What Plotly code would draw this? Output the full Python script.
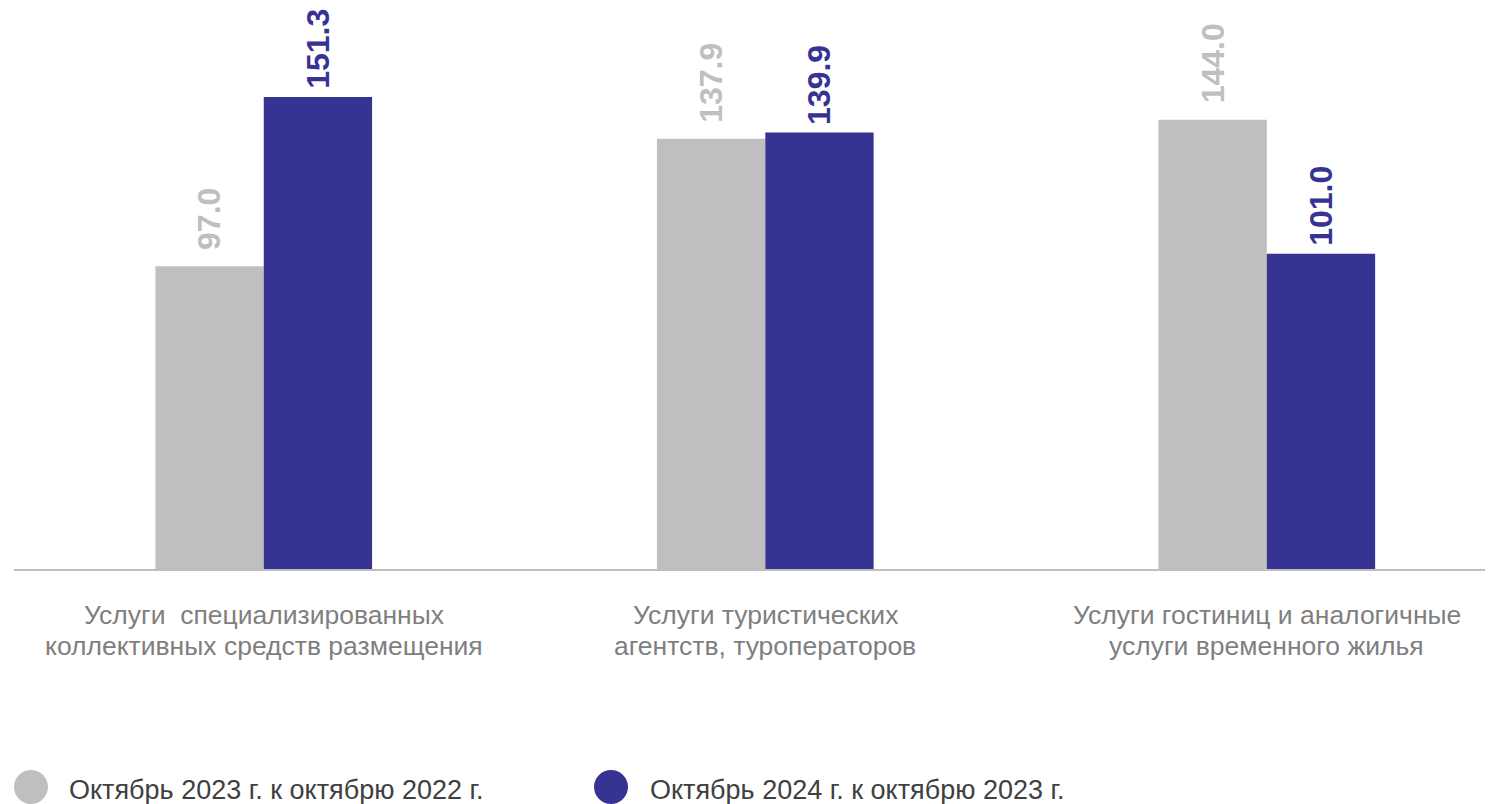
import plotly.graph_objects as go

category_lines = [
    ["Услуги  специализированных", "коллективных средств размещения"],
    ["Услуги туристических", "агентств, туроператоров"],
    ["Услуги гостиниц и аналогичные", "услуги временного жилья"],
]
series_names = ["Октябрь 2023 г. к октябрю 2022 г.", "Октябрь 2024 г. к октябрю 2023 г."]
values_2023 = [97.0, 137.9, 144.0]
values_2024 = [151.3, 139.9, 101.0]
colors = ["#BFBFBF", "#373393"]

# page offset (browser body margin)
OFF = 8
W, H = 1493 - OFF, 804 - OFF
ML, MR, MT, MB = 14 - OFF, 0, 0, H - (569 - OFF)
PW, PH = W - ML - MR, H - MT - MB

xpos = list(range(len(category_lines)))
FONT = "Liberation Sans, Arial, sans-serif"


def px_x(X):  # page pixel -> paper
    return (X - OFF - ML) / PW


def px_y(Y):
    return (H - MB - (Y - OFF)) / PH


fig = go.Figure()
for name, vals, col in zip(series_names, [values_2023, values_2024], colors):
    fig.add_trace(go.Bar(x=xpos, y=vals, name=name, marker=dict(color=col, line=dict(width=0)),
                         showlegend=False, hoverinfo="skip"))

annotations = []
# data labels
bar_px = 108.3
label_gap = [14, 6]
for k, (vals, col) in enumerate(zip([values_2023, values_2024], colors)):
    shift = (-0.5 if k == 0 else 0.5) * bar_px
    for i, v in enumerate(vals):
        annotations.append(dict(x=xpos[i], y=v, xref="x", yref="y", text=f"<b>{v:.1f}</b>",
                                textangle=-90, showarrow=False, xshift=shift, yshift=label_gap[k],
                                xanchor="center", yanchor="bottom",
                                font=dict(family=FONT, size=32, color=col)))

# category labels
for i, lines in enumerate(category_lines):
    for j, line in enumerate(lines):
        annotations.append(dict(x=xpos[i], y=px_y(615 + 31 * j), xref="x", yref="paper",
                                text=line, showarrow=False, xanchor="center", yanchor="middle",
                                font=dict(family=FONT, size=26.5, color="#7F7F7F")))

# legend (manual)
shapes = []
legend_items = [(31, 67), (611, 648)]
for (cx, tx), name, col in zip(legend_items, series_names, colors):
    r = 17
    shapes.append(dict(type="circle", xref="paper", yref="paper",
                       x0=px_x(cx - r), x1=px_x(cx + r), y0=px_y(787 + r), y1=px_y(787 - r),
                       fillcolor=col, line=dict(width=0)))
    annotations.append(dict(x=px_x(tx), y=px_y(790), xref="paper", yref="paper", text=name,
                            showarrow=False, xanchor="left", yanchor="middle",
                            font=dict(family=FONT, size=27, color="#404040")))

fig.update_layout(
    width=W, height=H,
    margin=dict(l=ML, r=MR, t=MT, b=MB),
    paper_bgcolor="white", plot_bgcolor="white",
    barmode="group", bargap=0.568, bargroupgap=0,
    showlegend=False,
    shapes=shapes, annotations=annotations,
    xaxis=dict(range=[-0.498, 2.451], tickvals=xpos, showticklabels=False,
               showline=True, linecolor="#BFBFBF", linewidth=2, showgrid=False,
               zeroline=False, ticks=""),
    yaxis=dict(range=[0, 179.8], visible=False, showgrid=False, zeroline=False),
)

fig.write_html("out.html")
